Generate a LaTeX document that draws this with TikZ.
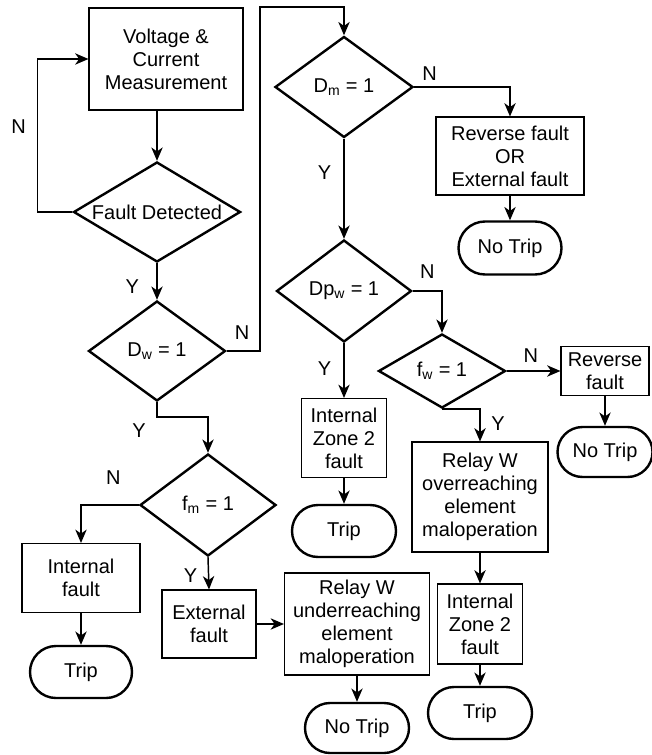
\documentclass[tikz,border=0pt]{standalone}
\usepackage{fontspec}
\setmainfont{Liberation Sans}
\usetikzlibrary{shapes.geometric}
\usetikzlibrary{shapes.misc}
\usetikzlibrary{positioning}
\usetikzlibrary{arrows.meta}
\tikzset{
    wh/.style 2 args = {minimum width=#1*0.75pt, minimum height=#2*0.75pt},
    pbox/.style = {rectangle, draw=black, line width=0.8pt, align=center, inner sep=0pt},
    dnode/.style = {diamond, draw=black, line width=1.8pt, align=center, inner sep=0pt, aspect=1.7},
    tnode/.style = {rounded rectangle, draw=black, line width=1.8pt, inner sep=0pt},
    edgen/.style = {-{Stealth[length=10pt,width=8.5pt,inset=3pt]}, line width=1.1pt},
    lbl/.style = {inner sep=1pt},
}
\newcommand{\Sub}[1]{\textsubscript{#1}}

\begin{document}
\begin{tikzpicture}[x=0.75pt, y=-0.75pt, font=\fontsize{15}{17.3}\selectfont]
\useasboundingbox (0,0) rectangle (651,755);
% left column
\node[pbox, wh={154}{102}] at (166,59) (meas) {Voltage \&\\Current\\Measurement};
\node[dnode, wh={167}{100}] at (157,212) (fd) {Fault Detected};
\node[dnode, wh={137}{100}] at (157,351) (dw) {D\Sub{w} = 1};
\node[dnode, wh={136}{102}] at (208,505) (fm) {f\Sub{m} = 1};
\node[pbox, wh={118}{69}] at (81,578) (intf) {Internal\\fault};
\node[tnode, wh={102}{52}] at (81,672) (trip1) {Trip};
\node[pbox, wh={94}{68}] at (209,624) (extf) {External\\fault};
\node[pbox, wh={145}{102}] at (357,624) (under) {Relay W\\underreaching\\element\\maloperation};
\node[tnode, wh={104}{50}] at (357,728) (notrip1) {No Trip};
% middle column
\node[dnode, wh={138}{101}] at (344,87) (dm) {D\Sub{m} = 1};
\node[pbox, wh={148}{78}] at (510,156) (revext) {Reverse fault\\OR\\External fault};
\node[tnode, wh={103}{53}] at (510,248) (notrip2) {No Trip};
\node[dnode, wh={135}{102}] at (344,291) (dp) {Dp\Sub{w} = 1};
\node[pbox, wh={85}{79}] at (344,438) (iz1) {Internal\\Zone 2\\fault};
\node[tnode, wh={104}{52}] at (344,531) (trip2) {Trip};
% right column
\node[dnode, wh={127}{74}] at (442,371) (fw) {f\Sub{w} = 1};
\node[pbox, wh={88}{49}] at (605,371) (rev) {Reverse\\fault};
\node[tnode, wh={95}{50}] at (605,452) (notrip3) {No Trip};
\node[pbox, wh={136}{110}] at (480,497) (over) {Relay W\\overreaching\\element\\maloperation};
\node[pbox, wh={85}{80}] at (480,624) (iz2) {Internal\\Zone 2\\fault};
\node[tnode, wh={104}{52}] at (480,713) (trip3) {Trip};
\coordinate (topc) at (260,7);
% connectors
\draw[edgen] (meas.south -| fd.north) -- (fd.north);
\draw[edgen] (fd.west) -- ++(-35,0) |- node[lbl, pos=0.28, left=7pt] {N} (meas.west);
\draw[edgen] (fd.south) -- node[lbl, pos=0.64, left=12pt] {Y} (dw.north);
\draw[edgen] (dw.east) -| node[lbl, pos=0.23, above=7pt] {N} (topc) -| (dm.north);
\draw[edgen] (dw.south) -- ++(0,15) node[lbl, below left={3.5pt and 7pt}] {Y} -| (fm.north);
\draw[edgen] (fm.west) -| node[lbl, pos=0.22, above=14pt] {N} (intf.north);
\draw[edgen] (intf.south) -- (trip1.north);
\draw[edgen] (fm.south) -- node[lbl, pos=0.56, left=7pt] {Y} (extf.north);
\draw[edgen] (extf.east) -- (under.west);
\draw[edgen] (under.south) -- (notrip1.north);
\draw[edgen] (dm.east) -| node[lbl, pos=0.08, above=3pt] {N} (revext.north);
\draw[edgen] (revext.south) -- (notrip2.north);
\draw[edgen] (dm.south) -- node[lbl, pos=0.34, left=8pt] {Y} (dp.north);
\draw[edgen] (dp.east) -| node[lbl, pos=0.25, above=8pt] {N} (fw.north);
\draw[edgen] (dp.south) -- node[lbl, pos=0.46, left=8pt] {Y} (iz1.north);
\draw[edgen] (iz1.south) -- (trip2.north);
\draw[edgen] (fw.east) -- node[lbl, pos=0.45, above=5pt] {N} (rev.west);
\draw[edgen] (rev.south) -- (notrip3.north);
\draw[edgen] (fw.south) -| node[lbl, pos=0.73, right=7pt] {Y} (over.north);
\draw[edgen] (over.south) -- (iz2.north);
\draw[edgen] (iz2.south) -- (trip3.north);
\end{tikzpicture}
\end{document}
